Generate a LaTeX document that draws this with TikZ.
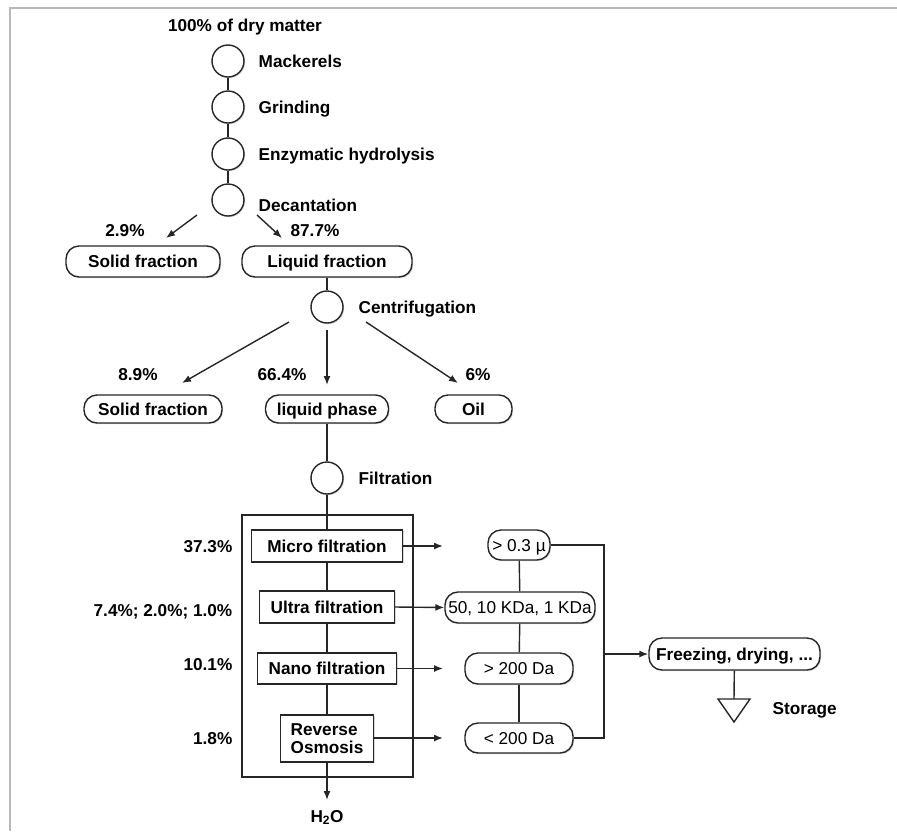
\documentclass[tikz,border=0pt]{standalone}
\usepackage{fontspec}
\setmainfont{Liberation Sans}
\usetikzlibrary{arrows.meta,shadows}

\begin{document}
\begin{tikzpicture}[x=1pt, y=-1pt, line width=1.4pt, draw=black!85,
  >={Latex[length=9pt,width=7pt]},
  fnt/.style={font=\bfseries\fontsize{17.2}{18}\selectfont, text height=14pt, text depth=2pt},
  lbl/.style={fnt, inner sep=0pt},
  sdw/.style={drop shadow={shadow xshift=1.2pt, shadow yshift=-1.2pt, opacity=.3}},
  stage/.style={circle, draw, fill=white, sdw, minimum size=32pt, inner sep=0pt},
  pill/.style={draw, fill=white, sdw, rounded corners=13pt, fnt, inner sep=0pt},
  cut/.style={pill, font=\mdseries\fontsize{17.2}{18}\selectfont},
  unitbox/.style={draw, fill=white, sdw, fnt, inner sep=0pt, minimum height=31pt}]
  \useasboundingbox (0,0) rectangle (897,831);
  \draw[gray!55, line width=1.5pt] (10,831) -- (10,8) -- (897,8);

  % raw material and pre-treatment
  \node[lbl] (dry) at (245,25) {100\% of dry matter};
  \node[stage] (mack) at (228,61) {};
  \node[stage] (grind) at (228,107) {};
  \node[stage] (hydro) at (228,154) {};
  \node[stage] (decan) at (228,200) {};
  \node[lbl, anchor=west] (tmack) at (258,61) {Mackerels};
  \node[lbl, anchor=west] (tgrind) at (258,107) {Grinding};
  \node[lbl, anchor=west] (thydro) at (258,154) {Enzymatic hydrolysis};
  \node[lbl, anchor=west] (tdecan) at (258,205) {Decantation};
  \draw (mack) -- (grind);
  \draw (grind) -- (hydro);
  \draw (hydro) -- (decan);

  \coordinate (d1s) at (197,215);
  \coordinate (d1e) at (166,238);
  \coordinate (d2s) at (257,215);
  \coordinate (d2e) at (282,238);
  \draw[->] (d1s) -- (d1e);
  \draw[->] (d2s) -- (d2e);
  \node[lbl] (p29) at (125,230) {2.9\%};
  \node[lbl] (p877) at (315,230) {87.7\%};
  \node[pill, minimum width=154pt, minimum height=31pt] (solid1) at (143,261.5) {Solid fraction};
  \node[pill, minimum width=170pt, minimum height=31pt] (liquid1) at (327,261.5) {Liquid fraction};

  % centrifugation
  \node[stage] (centri) at (327,307) {};
  \node[lbl, anchor=west] (tcentri) at (358,307) {Centrifugation};
  \draw (liquid1) -- (centri);
  \coordinate (c1s) at (289,322);
  \coordinate (c1e) at (182,383);
  \coordinate (c2s) at (327,330);
  \coordinate (c2e) at (327,385);
  \coordinate (c3s) at (366,322);
  \coordinate (c3e) at (458,383);
  \draw[->] (c1s) -- (c1e);
  \draw[->] (c2s) -- (c2e);
  \draw[->] (c3s) -- (c3e);
  \node[lbl] (p89) at (138,374) {8.9\%};
  \node[lbl] (p664) at (282,374) {66.4\%};
  \node[lbl] (p6) at (478,374) {6\%};
  \node[pill, minimum width=138pt, minimum height=28pt] (solid2) at (153,409) {Solid fraction};
  \node[pill, minimum width=123pt, minimum height=28pt] (liquid2) at (327,409) {liquid phase};
  \node[pill, minimum width=77pt, minimum height=28pt] (oil) at (473.5,409) {Oil};

  % filtration unit
  \node[stage] (filt) at (327,478) {};
  \node[lbl, anchor=west] (tfilt) at (358,478) {Filtration};
  \draw (liquid2) -- (filt);
  \node[draw, minimum width=171pt, minimum height=262pt, inner sep=0pt] (unit) at (327.5,646) {};
  \node[unitbox, minimum width=151pt, minimum height=32pt] (micro) at (327,546) {Micro filtration};
  \node[unitbox, minimum width=135pt, minimum height=32pt] (ultra) at (327,607) {Ultra filtration};
  \node[unitbox, minimum width=139pt] (nano) at (327,668.5) {Nano filtration};
  \node[draw, fill=white, sdw, inner sep=0pt, minimum width=93pt, minimum height=47pt,
    align=left, font=\bfseries\fontsize{17.2}{18}\selectfont] (ro) at (327,738.5) {Reverse\\Osmosis};
  \draw (filt) -- (micro);
  \draw (micro) -- (ultra);
  \draw (ultra) -- (nano);
  \draw (nano) -- (ro);
  \coordinate (w1) at (327,800);
  \draw[->] (ro) -- (w1);
  \node[lbl] (water) at (327,816) {H\textsubscript{2}O};

  \node[lbl, anchor=east] (p373) at (233,546) {37.3\%};
  \node[lbl, anchor=east] (p74) at (233,610) {7.4\%; 2.0\%; 1.0\%};
  \node[lbl, anchor=east] (p101) at (233,664) {10.1\%};
  \node[lbl, anchor=east] (p18) at (233,738) {1.8\%};

  % cut-offs
  \node[cut, minimum width=62pt, minimum height=30pt] (k1) at (519,545) {> 0.3 µ};
  \node[cut, minimum width=150pt, minimum height=31pt] (k2) at (520,607.5) {50, 10 KDa, 1 KDa};
  \node[cut, minimum width=108pt, minimum height=31pt] (k3) at (519,668.5) {> 200 Da};
  \node[cut, minimum width=108pt, minimum height=30pt] (k4) at (519,738) {< 200 Da};
  \coordinate (m1) at (443,546);
  \coordinate (n1) at (443,668.5);
  \coordinate (r1) at (443,738);
  \draw[->] (micro.east) -- (m1);
  \draw[->] (ultra.east) -- (k2.west);
  \draw[->] (nano.east) -- (n1);
  \draw[->] (ro.east |- r1) -- (r1);
  \draw (k1) -- (k2);
  \draw (k2) -- (k3);
  \draw (k3) -- (k4);

  % collecting line
  \coordinate (b1) at (604,545);
  \coordinate (b2) at (604,738);
  \coordinate (b3) at (604,654);
  \draw (k1.east) -- (b1) -- (b2) -- (k4.east);
  \node[pill, minimum width=171pt, minimum height=32pt] (freeze) at (734.5,654) {Freezing, drying, ...};
  \draw[->] (b3) -- (freeze.west);

  \coordinate (stor) at (734,699);
  \draw (freeze) -- (stor);
  \draw[fill=white] (stor) ++(-16,0) -- ++(32,0) -- (734,722) -- cycle;
  \node[lbl, anchor=west] (tstor) at (772,708) {Storage};
\end{tikzpicture}
\end{document}
